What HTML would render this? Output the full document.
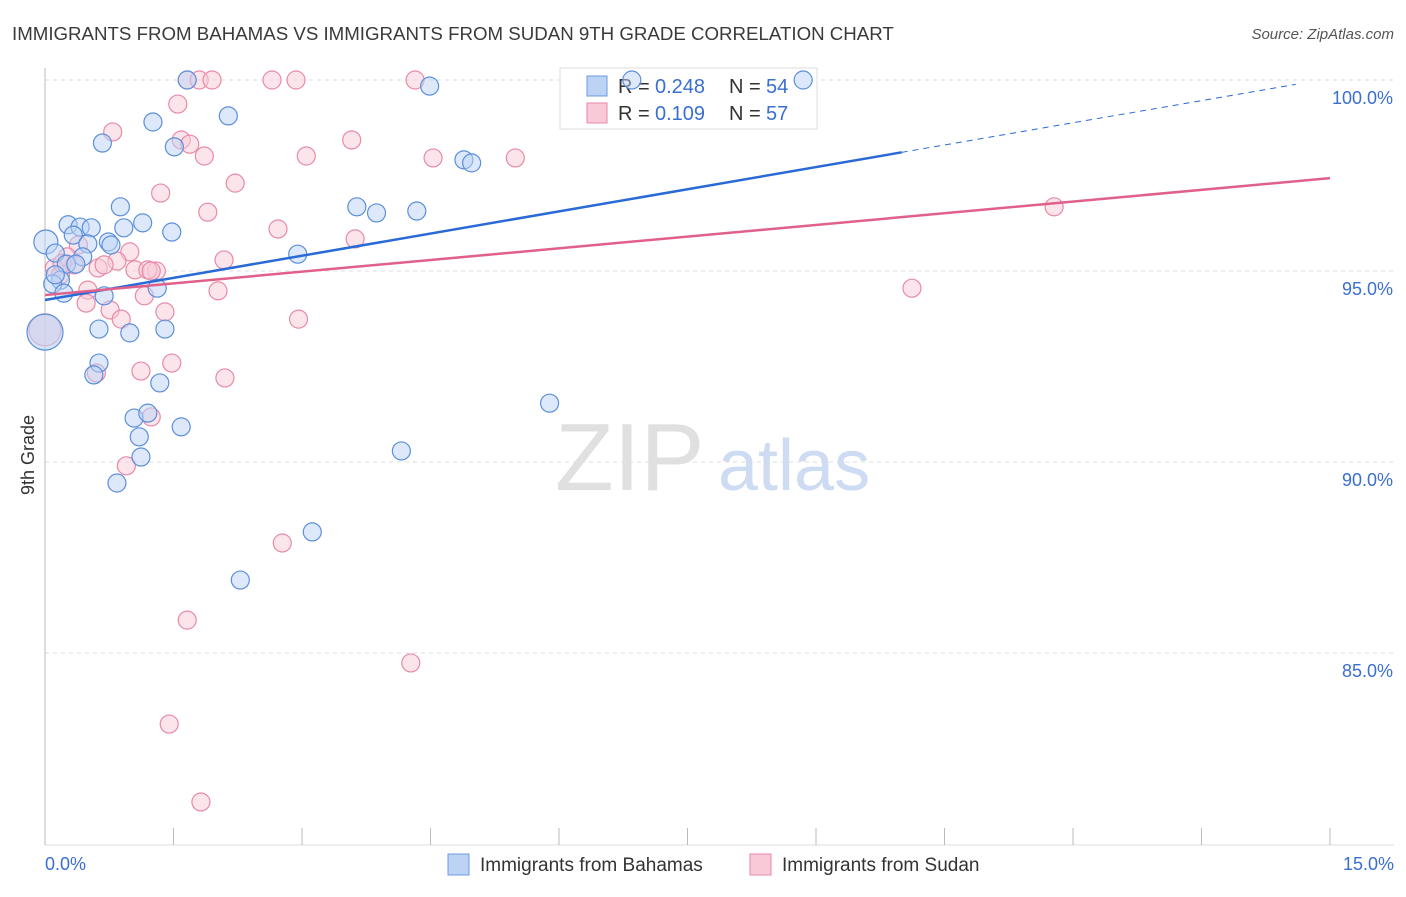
<!DOCTYPE html>
<html><head><meta charset="utf-8"><style>
body{margin:0;background:#fff;font-family:"Liberation Sans",sans-serif;}
svg text{font-family:"Liberation Sans",sans-serif;}
</style></head><body>
<svg id="chart" width="1406" height="892" viewBox="0 0 1406 892" xmlns="http://www.w3.org/2000/svg">
<text x="12" y="40" font-size="18.7" fill="#3a3a3a">IMMIGRANTS FROM BAHAMAS VS IMMIGRANTS FROM SUDAN 9TH GRADE CORRELATION CHART</text>
<text x="1394" y="39" font-size="15" fill="#555" font-style="italic" text-anchor="end">Source: ZipAtlas.com</text>
<g id="grid"></g>
<g><text x="555" y="490" font-size="96" fill="#e0e0e0" font-family="Liberation Serif">ZIP</text><text x="718" y="490" font-size="72" fill="#cddcf2">atlas</text></g>
<g>
<rect x="560" y="68" width="257" height="61" fill="#fff" stroke="#ddd"/>
<rect x="587" y="76" width="20" height="20" fill="#bcd3f5" stroke="#6a9be0"/>
<text x="618" y="93" font-size="20" fill="#333">R =</text><text x="655" y="93" font-size="20" fill="#3a6fd0">0.248</text>
<text x="729" y="93" font-size="20" fill="#333">N =</text><text x="766" y="93" font-size="20" fill="#3a6fd0">54</text>
<rect x="587" y="103" width="20" height="20" fill="#f9c9d8" stroke="#e88aa8"/>
<text x="618" y="120" font-size="20" fill="#333">R =</text><text x="655" y="120" font-size="20" fill="#3a6fd0">0.109</text>
<text x="729" y="120" font-size="20" fill="#333">N =</text><text x="766" y="120" font-size="20" fill="#3a6fd0">57</text>
</g>
<g id="axes"></g>
<g id="marks"></g>
<text transform="translate(34,455) rotate(-90)" font-size="18" fill="#333" text-anchor="middle">9th Grade</text>
<g>
<rect x="448" y="854" width="21" height="21" fill="#bcd3f5" stroke="#6a9be0"/>
<text x="480" y="871" font-size="19" fill="#333">Immigrants from Bahamas</text>
<rect x="750" y="854" width="21" height="21" fill="#f9c9d8" stroke="#e88aa8"/>
<text x="782" y="871" font-size="19" fill="#333">Immigrants from Sudan</text>
</g>
</svg>
<script>
const yTicks=[100,95,90,85];
const yTickLabels=["100.0%","95.0%","90.0%","85.0%"];
const xTickLabels=["0.0%","15.0%"];
const bahamasX=[1.66,4.49,6.85,8.85,1.26,2.14,0.67,1.51,4.89,4.98,0.88,3.64,3.87,4.34,0.27,0.41,0.54,1.14,0.92,1.48,0.33,0.01,0.5,0.74,0.77,0.12,2.95,0.44,0.25,0.36,0.18,0.09,0.22,0.69,1.31,0.63,0.99,1.4,0.63,0.57,1.34,5.89,1.04,1.2,1.59,1.1,1.12,4.16,0.84,3.12,2.28,0.0,0.12];
const bahamasY=[100,99.84,100,100,98.9,99.06,98.35,98.25,97.91,97.83,96.68,96.68,96.52,96.57,96.21,96.15,96.13,96.26,96.13,96.02,95.94,95.76,95.71,95.76,95.68,95.47,95.44,95.37,95.18,95.18,94.76,94.66,94.42,94.35,94.55,93.48,93.38,93.48,92.59,92.28,92.07,91.54,91.15,91.28,90.92,90.66,90.13,90.29,89.45,88.17,86.91,93.4,94.9];
const bahamasR=[9,9,9,9,9,9,9,9,9,9,9,9,9,9,9,9,9,9,9,9,9,12,9,9,9,9,9,9,9,9,9,9,9,9,9,9,9,9,9,9,9,9,9,9,9,9,9,9,9,9,9,18,9];
const sudanX=[1.66,1.8,1.95,2.65,2.93,4.32,0.79,1.55,1.59,1.69,1.86,3.58,3.05,4.53,5.49,1.35,2.22,1.9,2.72,3.62,0.99,0.39,0.84,2.09,0.26,0.34,0.62,1.05,1.3,1.2,0.11,0.5,1.16,2.02,0.48,0.76,0.89,1.4,2.96,1.12,1.48,2.1,0.6,1.24,0.95,2.77,1.66,4.27,1.45,1.82,11.78,10.12,0.0,0.18,0.69,1.24,0.2];
const sudanY=[100,100,100,100,100,100,98.64,99.37,98.43,98.32,98.01,98.43,98.01,97.96,97.96,97.04,97.3,96.54,96.1,95.84,95.5,95.68,95.26,95.29,95.37,95.16,95.08,95.03,95.0,95.03,95.08,94.5,94.35,94.48,94.16,93.98,93.74,93.93,93.74,92.38,92.59,92.2,92.33,91.18,89.9,87.88,85.86,84.74,83.14,81.1,96.68,94.55,93.46,94.9,95.16,95.0,95.2];
const sudanR=new Array(sudanX.length).fill(9);sudanR[52]=16;
const trendBahamas=[94.24,100.04];const trendSudan=[94.37,97.43];const trendBahamasSolidEnd=10.0;
const ns="http://www.w3.org/2000/svg";
const X0=45,X1=1330,Y100=80,PX=38.2;
const xs=v=>X0+(X1-X0)*v/15;
const ys=v=>Y100+(100-v)*PX;
function mk(tag,attrs,parent){const e=document.createElementNS(ns,tag);for(const k in attrs)e.setAttribute(k,attrs[k]);parent.appendChild(e);return e;}
const grid=document.getElementById('grid'),axes=document.getElementById('axes'),marks=document.getElementById('marks');
yTicks.forEach((t,i)=>{
 const l=mk('line',{x1:X0,x2:1394,y1:ys(t),y2:ys(t),stroke:'#ddd','stroke-dasharray':'4,4'},grid);
 
 
 const tx=mk('text',{x:1393,y:ys(t)+24,'font-size':18,fill:'#3a6fd0','text-anchor':'end'},axes);tx.textContent=yTickLabels[i];
 
 
});
const la=mk('line',{x1:X0,x2:X0,y1:68,y2:845,stroke:'#bbb'},axes);


const lb=mk('line',{x1:X0,x2:1394,y1:845,y2:845,stroke:'#ddd'},axes);


for(let i=0;i<=10;i++){const t=mk('line',{x1:xs(i*1.5),x2:xs(i*1.5),y1:828,y2:845,stroke:'#bbb'},axes);
 
 }
[[0,'start',45],[15,'end',1394]].forEach((d,i)=>{const t=mk('text',{x:d[2],y:870,'font-size':18,fill:'#3a6fd0','text-anchor':d[1]},axes);t.textContent=xTickLabels[i];
 
 });
function pts(X,Y,R,fill,stroke,name){X.forEach((x,i)=>{const c=mk('circle',{cx:xs(x),cy:ys(Y[i]),r:R[i],fill:fill,'fill-opacity':R[i]>12?0.6:0.5,stroke:stroke,'stroke-width':1.2},marks);
 
 });}
pts(sudanX,sudanY,sudanR,'#f9c9d8','#e88aa8','sudan-point');
pts(bahamasX,bahamasY,bahamasR,'#bcd3f5','#5b8fdc','bahamas-point');
const tb=v=>trendBahamas[0]+(trendBahamas[1]-trendBahamas[0])*v/15;
const l1=mk('line',{x1:xs(0),y1:ys(trendBahamas[0]),x2:xs(trendBahamasSolidEnd),y2:ys(tb(trendBahamasSolidEnd)),stroke:'#2a6ad6','stroke-width':2.5},marks);


const l2=mk('line',{x1:xs(trendBahamasSolidEnd),y1:ys(tb(trendBahamasSolidEnd)),x2:xs(14.6),y2:ys(tb(14.6)),stroke:'#2a6ad6','stroke-width':1,'stroke-dasharray':'6,5'},marks);


const l3=mk('line',{x1:xs(0),y1:ys(trendSudan[0]),x2:xs(15),y2:ys(trendSudan[1]),stroke:'#e0608a','stroke-width':2.5},marks);


</script>
</body></html>
